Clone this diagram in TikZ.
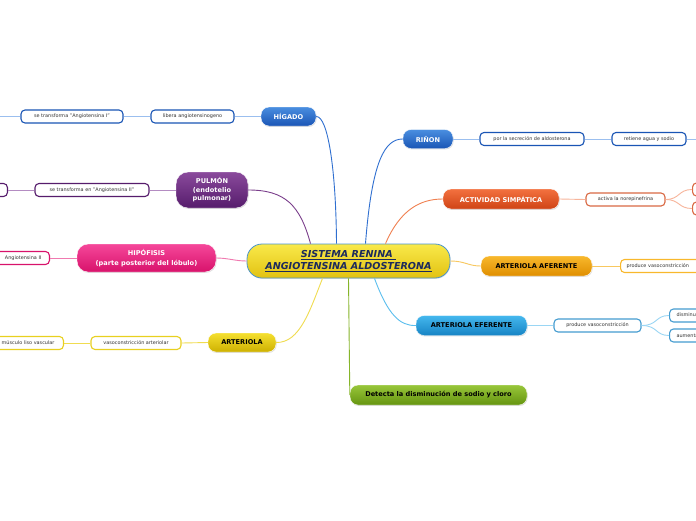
\documentclass[tikz,border=0pt]{standalone}
\usepackage{fontspec}
\setmainfont{DejaVu Sans}
\usetikzlibrary{calc,shadows}
\definecolor{bluetop}{HTML}{4A8EE0}
\definecolor{bluebot}{HTML}{1A55B5}
\definecolor{blueline}{HTML}{2F6FD0}
\definecolor{bluelight}{HTML}{9BBFEF}
\definecolor{purtop}{HTML}{8A4A9C}
\definecolor{purbot}{HTML}{561C6C}
\definecolor{purline}{HTML}{7B3F8C}
\definecolor{purlight}{HTML}{B48CC2}
\definecolor{pinktop}{HTML}{F5479A}
\definecolor{pinkbot}{HTML}{D8126B}
\definecolor{pinkline}{HTML}{F07AB0}
\definecolor{yeltop}{HTML}{F5E030}
\definecolor{yelbot}{HTML}{CDB000}
\definecolor{yelline}{HTML}{F0DC50}
\definecolor{yelborder}{HTML}{E8D020}
\definecolor{redtop}{HTML}{F3713F}
\definecolor{redbot}{HTML}{CF4315}
\definecolor{redline}{HTML}{F08050}
\definecolor{redlight}{HTML}{F7B49A}
\definecolor{ambtop}{HTML}{F8B82C}
\definecolor{ambbot}{HTML}{DF8E00}
\definecolor{ambline}{HTML}{F8C860}
\definecolor{cyantop}{HTML}{45B8EE}
\definecolor{cyanbot}{HTML}{1683C4}
\definecolor{cyanline}{HTML}{5ABEEE}
\definecolor{cyanlight}{HTML}{9AD6F4}
\definecolor{grntop}{HTML}{98C63A}
\definecolor{grnbot}{HTML}{659410}
\definecolor{grnline}{HTML}{86B52A}
\definecolor{ctrtop}{HTML}{F9E94A}
\definecolor{ctrbot}{HTML}{E2C212}
\definecolor{ctrborder}{HTML}{4A94CC}
\definecolor{navy}{HTML}{1C2A5C}
\tikzset{
  mainnode/.style={rounded corners=8pt, draw=white, line width=0.4pt,
    align=center, inner sep=1pt,
    font=\bfseries\fontsize{6.6}{8}\selectfont,
    drop shadow={shadow xshift=0.6pt, shadow yshift=-0.9pt, opacity=0.25}},
  childbox/.style={rounded corners=4pt, fill=white, line width=1.1pt,
    inner xsep=3pt, inner ysep=0pt, minimum height=13pt,
    font=\fontsize{4.9}{6}\selectfont, text=black!80},
  conn/.style={line width=0.9pt},
}
\begin{document}
\begin{tikzpicture}[x=1pt,y=-1pt]
\useasboundingbox (0,0) rectangle (696,520);
\fill[white] (0,0) rectangle (696,520);

% centre
\node[rounded corners=15pt, draw=ctrborder, line width=0.8pt, top color=ctrtop, bottom color=ctrbot,
  minimum width=203, minimum height=34, align=center, text=navy,
  font=\bfseries\itshape\fontsize{9.6}{11}\selectfont, inner sep=1pt,
  drop shadow={shadow xshift=0.6pt, shadow yshift=-0.9pt, opacity=0.2}]
  (ctr) at (348.5,261) {\underline{SISTEMA RENINA\ }\\[1.5pt]\underline{ANGIOTENSINA ALDOSTERONA}};

% main nodes
\node[mainnode, top color=bluetop, bottom color=bluebot, text=white, minimum width=55, minimum height=19] (hig) at (288.5,116.5) {HÍGADO};
\node[mainnode, top color=purtop, bottom color=purbot, text=white, minimum width=72, minimum height=36, rounded corners=12pt, font=\bfseries\fontsize{6.6}{8.5}\selectfont] (pul) at (212,190) {PULMÓN\\(endotelio\\pulmonar)};
\node[mainnode, top color=pinktop, bottom color=pinkbot, text=white, minimum width=139, minimum height=28, rounded corners=11pt, font=\bfseries\fontsize{6.6}{9.5}\selectfont] (hip) at (146.5,258) {HIPÓFISIS\\(parte posterior del lóbulo)};
\node[mainnode, top color=yeltop, bottom color=yelbot, text=black, minimum width=68, minimum height=19] (art) at (242,342.5) {ARTERIOLA};
\node[mainnode, top color=bluetop, bottom color=bluebot, text=white, minimum width=50, minimum height=19] (rin) at (428,139) {RIÑON};
\node[mainnode, top color=redtop, bottom color=redbot, text=white, minimum width=116, minimum height=20] (act) at (501,199) {ACTIVIDAD SIMPÁTICA};
\node[mainnode, top color=ambtop, bottom color=ambbot, text=black, minimum width=111, minimum height=20] (afe) at (536.5,266) {ARTERIOLA AFERENTE};
\node[mainnode, top color=cyantop, bottom color=cyanbot, text=black, minimum width=111, minimum height=20] (efe) at (471.5,325.5) {ARTERIOLA EFERENTE};
\node[mainnode, top color=grntop, bottom color=grnbot, text=black, minimum width=177, minimum height=20] (det) at (438.5,395) {Detecta la disminución de sodio y cloro};

% centre connectors
\draw[conn, blueline] ([xshift=-12pt]ctr.north) .. controls (336,170) and (328,116) .. (hig.east);
\draw[conn, purline] ([xshift=-38pt]ctr.north) .. controls (300,205) and (285,190) .. (pul.east);
\draw[conn, pinkline] (ctr.west) .. controls (235,261) and (228,258) .. (hip.east);
\draw[conn, yelline] ([xshift=-26pt]ctr.south) .. controls (310,310) and (300,343) .. (art.east);
\draw[conn, blueline] ([xshift=17pt]ctr.north) .. controls (372,160) and (385,139) .. (rin.west);
\draw[conn, redline] ([xshift=37pt]ctr.north) .. controls (400,210) and (420,199) .. (act.west);
\draw[conn, ambline] (ctr.east) .. controls (465,261) and (468,266) .. (afe.west);
\draw[conn, cyanline] ([xshift=26pt]ctr.south) .. controls (388,315) and (400,326) .. (efe.west);
\draw[conn, grnline] ([xshift=0pt]ctr.south) -- (det.west);

% HIGADO branch
\node[childbox, draw=bluebot, minimum width=83] (lib) at (192.5,116.5) {libera angiotensinogeno};
\node[childbox, draw=bluebot, minimum width=102] (tr1) at (72,116.5) {se transforma "Angiotensina I"};
\coordinate (hl) at (-5,116.5);
\draw[conn, bluelight] (hig.west) -- (lib.east);
\draw[conn, bluelight] (lib.west) -- (tr1.east);
\draw[conn, bluelight] (tr1.west) -- (hl);

% PULMON branch
\node[childbox, draw=purbot, minimum width=114] (tr2) at (92,190) {se transforma en "Angiotensina II"};
\node[childbox, draw=purbot, minimum width=50, anchor=east] (pl) at (8,190) {};
\draw[conn, purlight] (pul.west) -- (tr2.east);
\draw[conn, purlight] (tr2.west) -- (pl.east);

% HIPOFISIS branch
\node[childbox, draw=pinkbot, text width=80, align=right, anchor=east] (ang) at (50,258) {Angiotensina II\hspace*{5pt}};
\draw[conn, pinkline] (hip.west) -- (ang.east);

% ARTERIOLA branch
\node[childbox, draw=yelborder, minimum width=90] (vas) at (136,343) {vasoconstricción arteriolar};
\node[childbox, draw=yelborder, text width=80, align=right, anchor=east] (mus) at (64,343) {músculo liso vascular\hspace*{6pt}};
\draw[conn, yelline] (art.west) -- (vas.east);
\draw[conn, yelline] (vas.west) -- (mus.east);

% RINON branch
\node[childbox, draw=bluebot, minimum width=104] (sec) at (532,139) {por la secreción de aldosterona};
\node[childbox, draw=bluebot, minimum width=74] (ret) at (649,139) {retiene agua y sodio};
\coordinate (rr) at (702,139);
\draw[conn, bluelight] (rin.east) -- (sec.west);
\draw[conn, bluelight] (sec.east) -- (ret.west);
\draw[conn, bluelight] (ret.east) -- (rr);

% ACTIVIDAD branch
\node[childbox, draw=redbot!80, minimum width=79] (nor) at (625.5,199.5) {activa la norepinefrina};
\node[childbox, draw=redbot!80, minimum width=40, anchor=west] (n1) at (692,189.5) {};
\node[childbox, draw=redbot!80, minimum width=40, anchor=west] (n2) at (692,208.5) {};
\draw[conn, redlight] (act.east) -- (nor.west);
\draw[conn, redlight] (nor.east) .. controls (680,199.5) and (678,189.5) .. (n1.west);
\draw[conn, redlight] (nor.east) .. controls (680,199.5) and (678,208.5) .. (n2.west);

% AFERENTE branch
\node[childbox, draw=ambtop, text width=94, align=left, anchor=west, inner xsep=6pt] (pva) at (620,266) {produce vasoconstricción};
\draw[conn, ambline] (afe.east) -- (pva.west);

% EFERENTE branch
\node[childbox, draw=cyanbot!80, minimum width=87] (pve) at (597.5,325.5) {produce vasoconstricción};
\node[childbox, draw=cyanbot!80, text width=44, anchor=west, align=left, inner xsep=7pt] (dis) at (669,315.5) {disminuye};
\node[childbox, draw=cyanbot!80, text width=44, anchor=west, align=left, inner xsep=7pt] (aum) at (669,335.5) {aumenta};
\draw[conn, cyanlight] (efe.east) -- (pve.west);
\draw[conn, cyanlight] (pve.east) .. controls (658,325.5) and (655,315.5) .. (dis.west);
\draw[conn, cyanlight] (pve.east) .. controls (658,325.5) and (655,335.5) .. (aum.west);
\end{tikzpicture}
\end{document}
